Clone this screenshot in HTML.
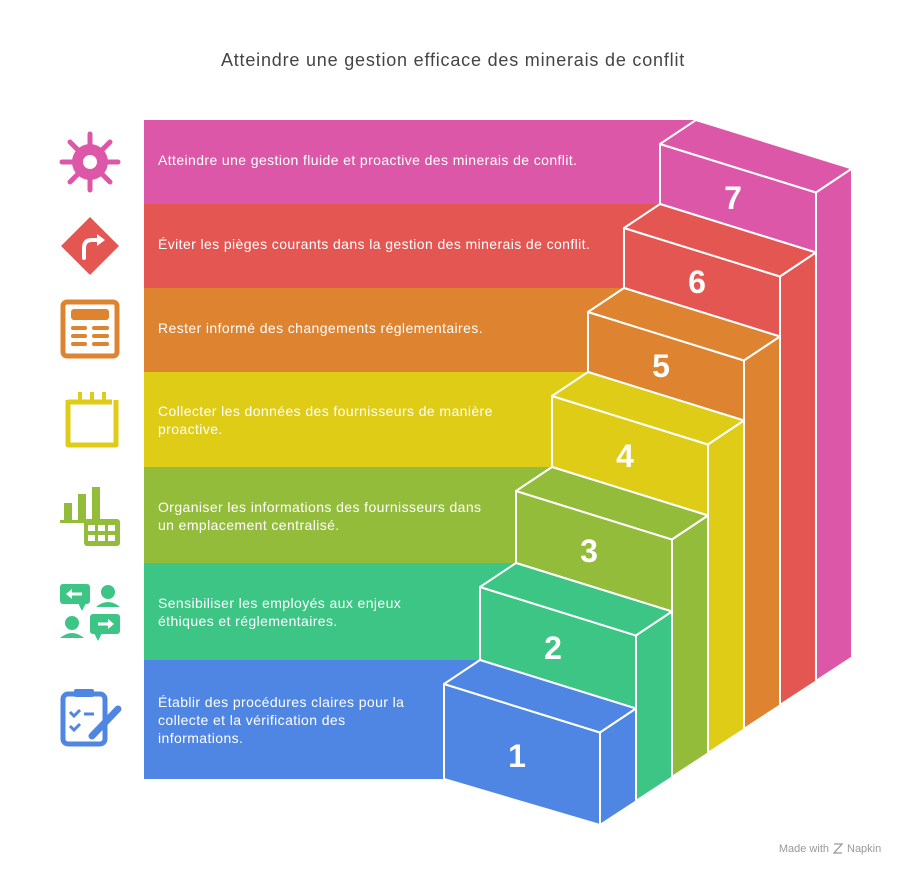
<!DOCTYPE html>
<html><head><meta charset="utf-8"><style>
html,body{margin:0;padding:0;background:#fff;}
body{width:907px;height:876px;overflow:hidden;font-family:"Liberation Sans",sans-serif;}
</style></head><body>
<svg width="907" height="876" viewBox="0 0 907 876" xmlns="http://www.w3.org/2000/svg" font-family="Liberation Sans, sans-serif">
<rect width="907" height="876" fill="#fff"/>
<text x="453" y="66" text-anchor="middle" font-size="18" letter-spacing="0.8" fill="#444">Atteindre une gestion efficace des minerais de conflit</text>
<!-- bands -->
<rect x="144" y="120" width="556" height="84" fill="#DD57A8"/>
<rect x="144" y="204" width="516" height="84" fill="#E45652"/>
<rect x="144" y="288" width="480" height="84" fill="#DE8330"/>
<rect x="144" y="372" width="444" height="95" fill="#DFCC17"/>
<rect x="144" y="467" width="408" height="96" fill="#93BC3B"/>
<rect x="144" y="563" width="372" height="97" fill="#3CC585"/>
<rect x="144" y="660" width="336" height="119" fill="#4F86E3"/>
<g stroke="#fff" stroke-width="2" stroke-linejoin="round">
<g fill="#DD57A8"><polygon points="660,144 816,192.5 816,252.5 660,204"/><polygon points="660,144 696,120 852,168.5 816,192.5"/><polygon points="816,192.5 852,168.5 852,657.5 816,681"/></g>
<g fill="#E45652"><polygon points="624,228 780,276.5 780,336.5 624,288"/><polygon points="624,228 660,204 816,252.5 780,276.5"/><polygon points="780,276.5 816,252.5 816,681.5 780,705"/></g>
<g fill="#DE8330"><polygon points="588,312 744,360.5 744,420.5 588,372"/><polygon points="588,312 624,288 780,336.5 744,360.5"/><polygon points="744,360.5 780,336.5 780,705.5 744,729"/></g>
<g fill="#DFCC17"><polygon points="552,396 708,444.5 708,515.5 552,467"/><polygon points="552,396 588,372 744,420.5 708,444.5"/><polygon points="708,444.5 744,420.5 744,729.5 708,753"/></g>
<g fill="#93BC3B"><polygon points="516,491 672,539.5 672,611.5 516,563"/><polygon points="516,491 552,467 708,515.5 672,539.5"/><polygon points="672,539.5 708,515.5 708,753.5 672,777"/></g>
<g fill="#3CC585"><polygon points="480,587 636,635.5 636,708.5 480,660"/><polygon points="480,587 516,563 672,611.5 636,635.5"/><polygon points="636,635.5 672,611.5 672,777.5 636,801"/></g>
<g fill="#4F86E3"><polygon points="444,684 600,732.5 600,825 444,779"/><polygon points="444,684 480,660 636,708.5 600,732.5"/><polygon points="600,732.5 636,708.5 636,801.5 600,825"/></g>
</g>
<g fill="#fff" font-weight="bold" font-size="32" text-anchor="middle">
<text x="733" y="209">7</text><text x="697" y="293">6</text><text x="661" y="377">5</text><text x="625" y="467">4</text><text x="589" y="562">3</text><text x="553" y="659">2</text><text x="517" y="767">1</text>
</g>
<g fill="#fff" font-size="14" letter-spacing="0.4">
<text x="158" y="165">Atteindre une gestion fluide et proactive des minerais de conflit.</text>
<text x="158" y="249">Éviter les pièges courants dans la gestion des minerais de conflit.</text>
<text x="158" y="333">Rester informé des changements réglementaires.</text>
<text x="158" y="416">Collecter les données des fournisseurs de manière</text>
<text x="158" y="434">proactive.</text>
<text x="158" y="512">Organiser les informations des fournisseurs dans</text>
<text x="158" y="530">un emplacement centralisé.</text>
<text x="158" y="608">Sensibiliser les employés aux enjeux</text>
<text x="158" y="626">éthiques et réglementaires.</text>
<text x="158" y="707">Établir des procédures claires pour la</text>
<text x="158" y="725">collecte et la vérification des</text>
<text x="158" y="743">informations.</text>
</g>
<!-- icons -->
<g fill="#DD57A8" stroke="#DD57A8" stroke-width="5" stroke-linecap="round">
<line x1="90" y1="134" x2="90" y2="190"/><line x1="62" y1="162" x2="118" y2="162"/>
<line x1="70" y1="142" x2="110" y2="182"/><line x1="110" y1="142" x2="70" y2="182"/>
<circle cx="90" cy="162" r="18" stroke="none"/>
<circle cx="90" cy="162" r="7" fill="#fff" stroke="none"/>
</g>
<polygon points="90,217 119,246 90,275 61,246" fill="#E45652"/>
<path d="M84 258 V248 Q84 240 92 240 H99" stroke="#fff" stroke-width="4" fill="none" stroke-linecap="round"/>
<polygon points="97,234 105,240 97,246" fill="#fff"/>
<rect x="63" y="302" width="54" height="54" rx="4" fill="none" stroke="#DE8330" stroke-width="5"/>
<rect x="71" y="309" width="38" height="11" rx="3" fill="#DE8330"/>
<g stroke="#DE8330" stroke-width="4" stroke-linecap="round"><line x1="73" y1="328" x2="85" y2="328"/><line x1="94" y1="328" x2="107" y2="328"/><line x1="73" y1="336" x2="85" y2="336"/><line x1="94" y1="336" x2="107" y2="336"/><line x1="73" y1="344" x2="85" y2="344"/><line x1="94" y1="344" x2="107" y2="344"/></g>
<path d="M68 400 V445 H116 V400" fill="none" stroke="#DFCC17" stroke-width="5" stroke-linejoin="round"/>
<path d="M68 402 H112" stroke="#DFCC17" stroke-width="5"/>
<g stroke="#DFCC17" stroke-width="4"><line x1="80" y1="392" x2="80" y2="404"/><line x1="92" y1="392" x2="92" y2="404"/><line x1="104" y1="392" x2="104" y2="404"/></g>
<g fill="#93BC3B"><rect x="60" y="520" width="18" height="3"/><rect x="64" y="503" width="8" height="20"/><rect x="78" y="494" width="8" height="29"/><rect x="92" y="487" width="8" height="33"/><rect x="84" y="519" width="36" height="27" rx="3"/></g>
<g fill="#fff"><rect x="88" y="525" width="7" height="6"/><rect x="98" y="525" width="7" height="6"/><rect x="108" y="525" width="7" height="6"/><rect x="88" y="535" width="7" height="6"/><rect x="98" y="535" width="7" height="6"/><rect x="108" y="535" width="7" height="6"/></g>
<g fill="#3CC585">
<rect x="60" y="584" width="30" height="20" rx="3"/><polygon points="78,603 86,603 82,611"/>
<circle cx="108" cy="592" r="7"/><path d="M96 607 Q108 597 120 607 Z"/>
<circle cx="72" cy="623" r="7"/><path d="M60 638 Q72 628 84 638 Z"/>
<rect x="90" y="614" width="30" height="20" rx="3"/><polygon points="94,633 102,633 98,641"/>
</g>
<g stroke="#fff" stroke-width="3" fill="none"><line x1="68" y1="594" x2="82" y2="594"/><line x1="98" y1="624" x2="112" y2="624"/></g>
<polygon points="66,594 72,589 72,599" fill="#fff"/><polygon points="114,624 108,619 108,629" fill="#fff"/>
<rect x="63" y="694" width="42" height="50" rx="5" fill="none" stroke="#4F86E3" stroke-width="5"/>
<rect x="74" y="689" width="20" height="8" rx="2" fill="#4F86E3"/>
<path d="M70 712 l4 4 l6 -6 M70 726 l4 4 l6 -6" stroke="#4F86E3" stroke-width="3" fill="none"/>
<line x1="84" y1="714" x2="94" y2="714" stroke="#4F86E3" stroke-width="3"/>
<line x1="92" y1="736" x2="118" y2="709" stroke="#4F86E3" stroke-width="7" stroke-linecap="round"/>
<text x="829" y="852" text-anchor="end" font-size="11" fill="#999">Made with</text>
<text x="847" y="852" font-size="11" fill="#999">Napkin</text>
<path d="M834 844 l8 0 l-8 9 l8 0" stroke="#999" stroke-width="1.3" fill="none"/>
</svg>
</body></html>
